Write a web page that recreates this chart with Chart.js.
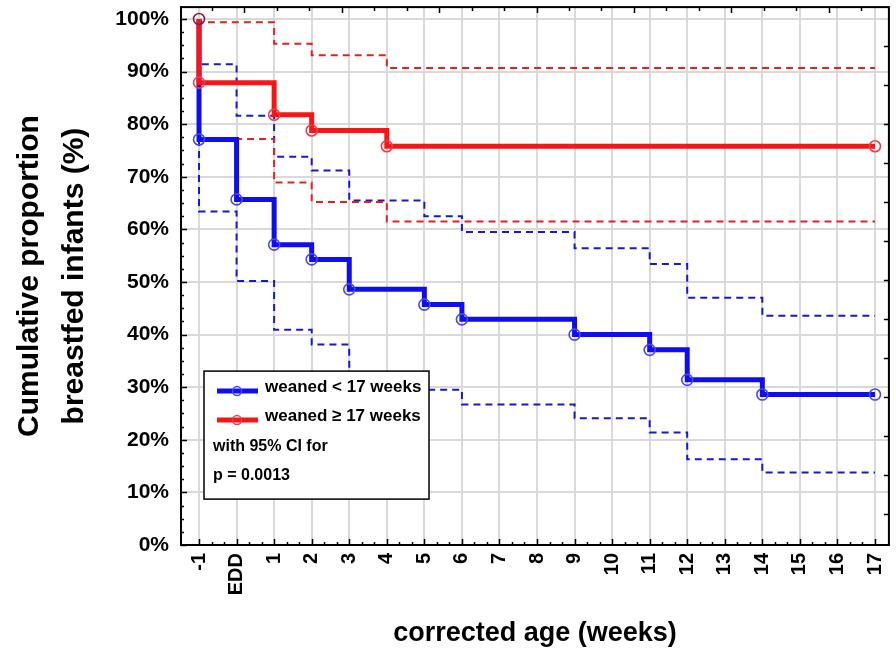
<!DOCTYPE html>
<html>
<head>
<meta charset="utf-8">
<script src="https://cdn.jsdelivr.net/npm/chart.js@4.4.1/dist/chart.umd.min.js"></script>
<style>
html, body { margin: 0; padding: 0; background: #fff; }
#wrap { width: 896px; height: 651px; }
</style>
</head>
<body>
<div id="wrap"><canvas id="kmChart" width="896" height="651"></canvas></div>
<script>
// x axis: corrected age in weeks, EDD = 0
var tickLabels = ['-1', 'EDD', '1', '2', '3', '4', '5', '6', '7', '8', '9', '10',
                  '11', '12', '13', '14', '15', '16', '17'];

// weaned < 17 weeks (survival + 95% CI), in %
var blueWeeks = [-1, -1, 0, 1, 2, 3, 5, 6, 9, 11, 12, 14, 17];
var blueSurv  = [100, 77.1, 65.7, 57.1, 54.3, 48.6, 45.7, 42.9, 40.0, 37.1, 31.4, 28.6, 28.6];
var blueUpper = [100, 91.4, 81.6, 73.8, 71.2, 65.5, 62.5, 59.5, 56.4, 53.4, 47.0, 43.6, 43.6];
var blueLower = [100, 63.4, 50.2, 40.9, 38.1, 32.3, 29.5, 26.7, 24.1, 21.4, 16.3, 13.8, 13.8];

// weaned >= 17 weeks
var redWeeks = [-1, -1, 1, 2, 4, 17];
var redSurv  = [100, 87.9, 81.8, 78.8, 75.8, 75.8];
var redUpper = [100, 99.4, 95.3, 93.1, 90.7, 90.7];
var redLower = [100, 77.2, 68.9, 65.2, 61.5, 61.5];

var legendItems = ['weaned < 17 weeks', 'weaned \u2265 17 weeks'];
var legendNotes = ['with 95% CI for', 'p = 0.0013'];

var BLUE = '#0f0fee';
var RED = '#fb1414';
var FONT = "'Liberation Sans', Arial, Helvetica, sans-serif";

function toPoints(xs, ys) {
    var pts = [];
    for (var i = 0; i < xs.length; i++) {
        pts.push({x: xs[i], y: ys[i]});
    }
    return pts;
}

function ciLine(label, xs, ys, color, order) {
    return {
        label: label,
        data: toPoints(xs, ys),
        borderColor: color,
        borderWidth: 2,
        borderDash: [7, 5],
        stepped: 'before',
        pointRadius: 0,
        order: order
    };
}

// inward tick marks + closed frame round the plot
var frameTicks = {
    id: 'frameTicks',
    afterDatasetsDraw: function (chart) {
        var ctx = chart.ctx;
        var a = chart.chartArea;
        var xs = chart.scales.x, ys = chart.scales.y;
        ctx.save();
        ctx.strokeStyle = '#000';
        ctx.lineWidth = 1.5;
        ctx.beginPath();
        // left axis: major every 10%, minor every 2.5%
        for (var v = 0; v <= 100; v += 2.5) {
            var py = Math.round(ys.getPixelForValue(v)) + 0.5;
            var len = (v % 10 === 0) ? 6 : 3;
            ctx.moveTo(a.left, py);
            ctx.lineTo(a.left + len, py);
        }
        // bottom axis: major each week, two minor in between
        for (var w = -1; w <= 17; w++) {
            for (var k = 0; k < 3; k++) {
                var val = w + k / 3;
                if (val > 17) break;
                var px = Math.round(xs.getPixelForValue(val)) + 0.5;
                ctx.moveTo(px, a.bottom);
                ctx.lineTo(px, a.bottom - (k === 0 ? 6 : 3));
            }
        }
        // top and right axes carry their own short ticks
        for (var t = 0; t < 21; t++) {
            var tx = Math.round(a.left + 31 + t * 32.45) + 0.5;
            if (tx > a.right - 4) break;
            ctx.moveTo(tx, a.top);
            ctx.lineTo(tx, a.top + (t % 3 === 1 ? 6 : 4));
        }
        for (var r = 0; r < 13; r++) {
            var ry = Math.round(a.top + 39 + r * 39) + 0.5;
            if (ry > a.bottom - 4) break;
            ctx.moveTo(a.right, ry);
            ctx.lineTo(a.right - 5, ry);
        }
        ctx.stroke();
        ctx.lineWidth = 2;
        ctx.strokeRect(a.left, a.top, a.right - a.left, a.bottom - a.top);
        ctx.restore();
    }
};

// boxed legend in the lower left of the plot
var boxLegend = {
    id: 'boxLegend',
    afterDraw: function (chart) {
        var ctx = chart.ctx;
        var a = chart.chartArea;
        var bx = a.left + 23, by = a.top + 364, bw = 225, bh = 128;
        ctx.save();
        ctx.fillStyle = '#fff';
        ctx.fillRect(bx, by, bw, bh);
        ctx.strokeStyle = '#000';
        ctx.lineWidth = 1.5;
        ctx.strokeRect(bx, by, bw, bh);

        var colors = [BLUE, RED];
        var rowY = [by + 16, by + 45, by + 75, by + 104];
        ctx.font = 'bold 17px ' + FONT;
        ctx.textBaseline = 'middle';
        ctx.fillStyle = '#000';
        for (var i = 0; i < legendItems.length; i++) {
            var ly = rowY[i] + 4;
            ctx.strokeStyle = colors[i];
            ctx.lineWidth = 5;
            ctx.beginPath();
            ctx.moveTo(bx + 13, ly);
            ctx.lineTo(bx + 54, ly);
            ctx.stroke();
            ctx.lineWidth = 1.5;
            ctx.strokeStyle = i === 0 ? '#4848ee' : '#e8404c';
            ctx.beginPath();
            ctx.arc(bx + 33, ly, 4.5, 0, Math.PI * 2);
            ctx.stroke();
            ctx.fillText(legendItems[i], bx + 61, rowY[i]);
        }
        ctx.font = 'bold 16px ' + FONT;
        ctx.fillText(legendNotes[0], bx + 9, rowY[2]);
        ctx.fillText(legendNotes[1], bx + 9, rowY[3]);
        ctx.restore();
    }
};

var ctx = document.getElementById('kmChart');
var kmChart = new Chart(ctx, {
    type: 'line',
    data: {
        datasets: [
            {
                label: legendItems[1],
                data: toPoints(redWeeks, redSurv),
                borderColor: RED,
                borderWidth: 5,
                stepped: 'before',
                pointRadius: 5.5,
                pointBorderWidth: 1.6,
                pointBackgroundColor: 'rgba(0,0,0,0)',
                pointBorderColor: function (c) {
                    return c.dataIndex === 0 ? '#8c1c48' : '#e8404c';
                },
                order: 0
            },
            {
                label: legendItems[0],
                data: toPoints(blueWeeks, blueSurv),
                borderColor: BLUE,
                borderWidth: 5,
                stepped: 'before',
                pointRadius: function (c) { return c.dataIndex === 0 ? 0 : 5.5; },
                pointBorderWidth: 1.6,
                pointBackgroundColor: 'rgba(0,0,0,0)',
                pointBorderColor: '#4848ee',
                order: 1
            },
            ciLine('upper CI >= 17', redWeeks, redUpper, '#e42020', 2),
            ciLine('lower CI >= 17', redWeeks, redLower, '#e42020', 2),
            ciLine('upper CI < 17', blueWeeks, blueUpper, '#1818d0', 3),
            ciLine('lower CI < 17', blueWeeks, blueLower, '#1818d0', 3)
        ]
    },
    options: {
        responsive: false,
        animation: false,
        devicePixelRatio: 1,
        layout: { padding: { top: 3, right: 7, left: 0, bottom: 0 } },
        plugins: {
            legend: { display: false },
            tooltip: { enabled: false }
        },
        scales: {
            x: {
                type: 'linear',
                min: -1.48,
                max: 17.37,
                ticks: {
                    stepSize: 1,
                    includeBounds: false,
                    autoSkip: false,
                    minRotation: 90,
                    maxRotation: 90,
                    padding: 8,
                    color: '#000',
                    font: { family: FONT, size: 20, weight: 'bold' },
                    callback: function (value) {
                        return tickLabels[value + 1];
                    }
                },
                grid: { color: '#d9d9d9', lineWidth: 2, drawTicks: false },
                border: { display: true, color: '#000', width: 2 },
                title: {
                    display: true,
                    text: 'corrected age (weeks)',
                    color: '#000',
                    font: { family: FONT, size: 27, weight: 'bold', lineHeight: 1.2 },
                    padding: { top: 0, bottom: 1 }
                },
                afterFit: function (scale) {
                    scale.height = 106;
                    scale.paddingLeft = 0;
                    scale.paddingRight = 0;
                }
            },
            y: {
                min: 0,
                max: 102.26,
                ticks: {
                    stepSize: 10,
                    includeBounds: false,
                    padding: 12,
                    color: '#000',
                    font: { family: FONT, size: 21, weight: 'bold' },
                    callback: function (value) { return value + '%'; }
                },
                grid: { color: '#d9d9d9', lineWidth: 2, drawTicks: false },
                border: { display: true, color: '#000', width: 2 },
                title: {
                    display: true,
                    text: ['Cumulative proportion', 'breastfed infants (%)'],
                    color: '#000',
                    font: { family: FONT, size: 30, weight: 'bold', lineHeight: 1.5 },
                    padding: { top: 7, bottom: 0 }
                },
                afterFit: function (scale) {
                    scale.width = 181;
                    scale.paddingTop = 0;
                    scale.paddingBottom = 0;
                }
            }
        }
    },
    plugins: [frameTicks, boxLegend]
});
</script>
</body>
</html>
